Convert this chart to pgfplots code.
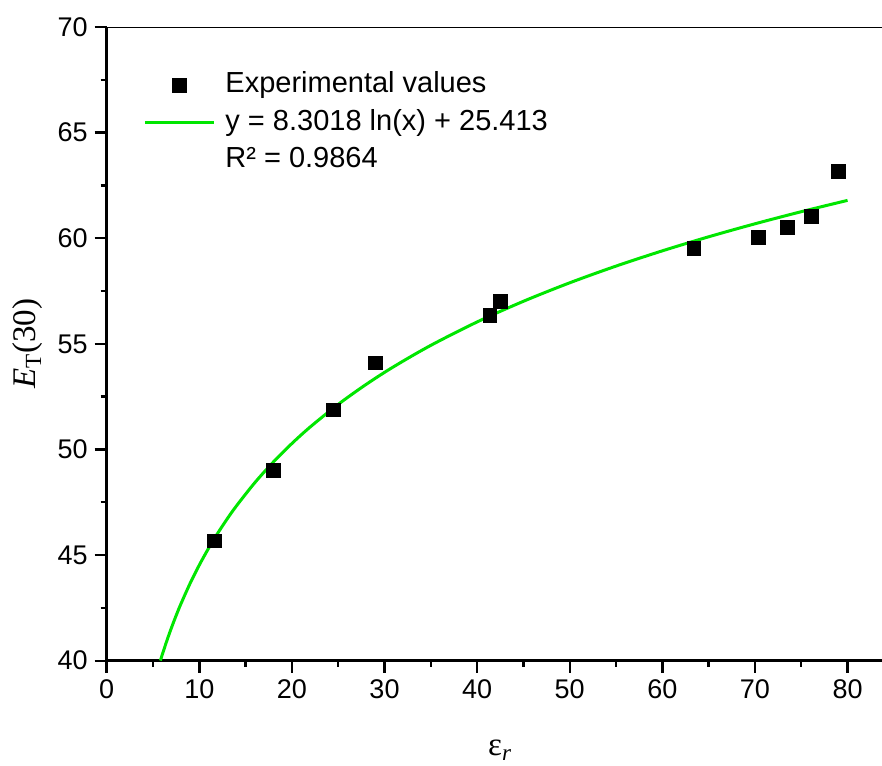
\documentclass[border=0pt]{standalone}
\usepackage{fontspec}
\setmainfont{Liberation Sans}
\newfontfamily\timesfont{Liberation Serif}
\usepackage{pgfplots}
\pgfplotsset{compat=1.18}
\definecolor{fitgreen}{RGB}{0,230,0}

\begin{document}
\begin{tikzpicture}
\begin{axis}[
  at={(0,0)}, anchor=south west,
  scale only axis,
  width=388pt, height=316.85pt,
  xmin=0, xmax=83.8,
  ymin=40, ymax=70,
  axis lines*=left,
  axis line style={line width=1.3pt},
  xtick={0,10,...,80},
  ytick={40,45,...,70},
  minor x tick num=1,
  minor y tick num=1,
  tick align=outside,
  major tick length=6pt,
  minor tick length=3pt,
  every tick/.style={black, line width=1.2pt},
  tick label style={font=\fontsize{13.5}{16}\selectfont},
  /pgf/number format/assume math mode=true,
  xlabel={{\timesfont ε\textsubscript{\textit{r}}}},
  ylabel={{\timesfont\textit{E}\textsubscript{T}(30)}},
  label style={font=\fontsize{16.5}{19}\selectfont},
  xlabel style={at={(rel axis cs:0.507,-0.141)}, anchor=center},
  ylabel style={at={(rel axis cs:-0.1014,0.5)}, anchor=center, rotate=0},
  legend image code/.code={
    \draw[mark repeat=2,mark phase=2,#1] plot coordinates {(0pt,0pt) (17.25pt,0pt) (34.5pt,0pt)};
  },
  legend cell align=left,
  legend style={
    at={(rel axis cs:0.0468,0.938)}, anchor=north west,
    draw=none, fill=none, inner sep=0pt, row sep=0pt, column sep=0pt,
    font=\fontsize{14.5}{17}\selectfont,
    nodes={inner xsep=5pt, inner ysep=2.6pt, text height=10.5pt, text depth=3pt},
  },
]
\addplot[only marks, mark=square*, mark size=3.4pt, mark options={draw=black, fill=black}]
  coordinates {
    (11.6,45.67) (18.0,49.0) (24.5,51.88) (29.0,54.1)
    (41.4,56.34) (42.5,57.01) (63.4,59.51) (70.4,60.03)
    (73.5,60.52) (76.1,61.03) (79.0,63.15)
  };
\addlegendentry{Experimental values}
\addplot[fitgreen, line width=1.5pt, smooth, no markers]
  coordinates {
    (5.8,40.006) (6,40.288) (6.5,40.952) (7,41.567) (7.5,42.140)
    (8,42.676) (9,43.654) (10,44.529) (11,45.320) (12,46.042)
    (13,46.707) (14,47.322) (16,48.431) (18,49.408) (20,50.283)
    (22,51.074) (25,52.135) (28,53.076) (31,53.921) (35,54.929)
    (40,56.037) (45,57.015) (50,57.890) (55,58.681) (60,59.403)
    (65,60.068) (70,60.683) (75,61.256) (80,61.792)
  };
\addlegendentry{y = 8.3018 ln(x) + 25.413}
\addlegendimage{empty legend}
\addlegendentry{R² = 0.9864}
\draw[line width=1.3pt] (rel axis cs:0,1) -- (rel axis cs:1,1);
\end{axis}
\pgfresetboundingbox
\path[use as bounding box] (-53.35pt,-52.15pt) rectangle (387.65pt,330.35pt);
\end{tikzpicture}
\end{document}
